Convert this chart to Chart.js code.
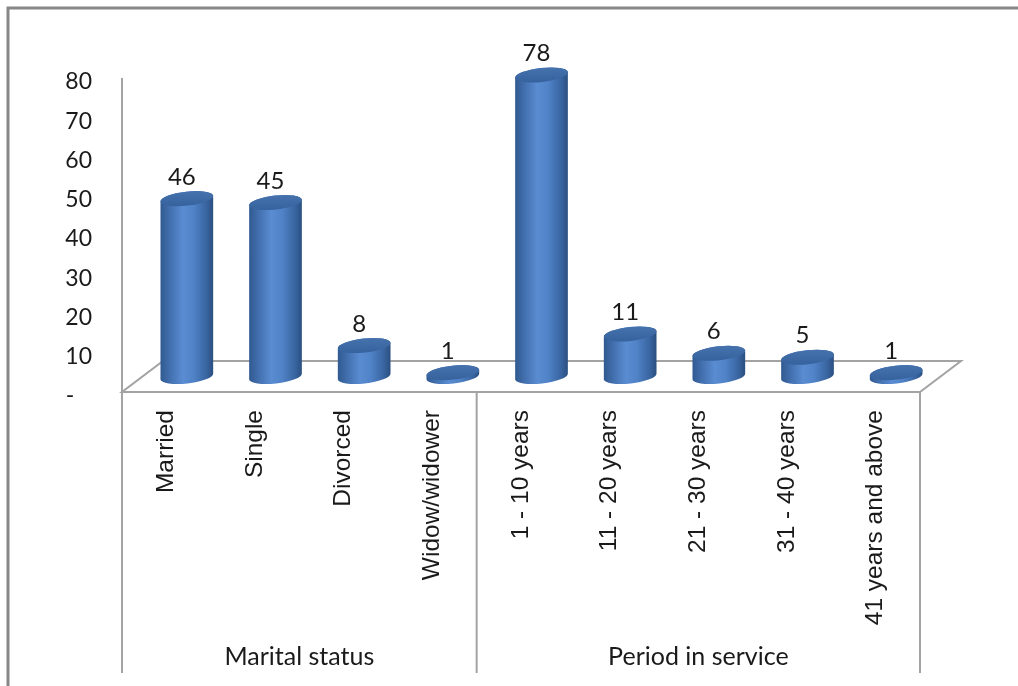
<!DOCTYPE html>
<html>
<head>
<meta charset="utf-8">
<style>
  html, body { margin: 0; padding: 0; background: #fff; }
  #wrap { width: 1018px; height: 686px; }
</style>
<script src="https://cdn.jsdelivr.net/npm/chart.js@4.4.1/dist/chart.umd.min.js"></script>
</head>
<body>
<div id="wrap"><canvas id="chart" width="1018" height="686"></canvas></div>
<script>
// respondents by marital status and by period in service
const categories = ['Married', 'Single', 'Divorced', 'Widow/widower',
  '1 - 10 years', '11 - 20 years', '21 - 30 years', '31 - 40 years', '41 years and above'];
const counts = [46, 45, 8, 1, 78, 11, 6, 5, 1];
const groups = ['Marital status', 'Period in service'];
const groupSizes = [4, 5];
const yTicks = [0, 10, 20, 30, 40, 50, 60, 70, 80];

const FONT = 'Lato, "Liberation Sans", sans-serif';
const LABEL_FONT = '"Liberation Sans", Arial, sans-serif';
const TEXT = '#1a1a1a';
const LINE = '#a3a3a3';
const DX = 41, DY = 31;          // floor depth
const RX = 26.5, RY = 7, TILT = -0.11;

function cylinder(ctx, cx, top, base) {
  const g = ctx.createLinearGradient(cx - RX, 0, cx + RX, 0);
  g.addColorStop(0, '#30598f');
  g.addColorStop(0.18, '#426fae');
  g.addColorStop(0.42, '#5a8cd2');
  g.addColorStop(0.62, '#5083c8');
  g.addColorStop(0.86, '#3a66a2');
  g.addColorStop(1, '#2a4f80');
  ctx.beginPath();
  ctx.ellipse(cx, base, RX, RY, TILT, 0, Math.PI);
  ctx.ellipse(cx, top, RX, RY, TILT, Math.PI, 2 * Math.PI);
  ctx.closePath();
  ctx.fillStyle = g;
  ctx.fill();

  const t = ctx.createLinearGradient(0, top - RY, 0, top + RY);
  t.addColorStop(0, '#4571ad');
  t.addColorStop(1, '#36629d');
  ctx.beginPath();
  ctx.ellipse(cx, top, RX, RY, TILT, 0, 2 * Math.PI);
  ctx.fillStyle = t;
  ctx.fill();
}

const cylinders = {
  id: 'cylinders',
  beforeDraw(chart) {
    const { ctx, chartArea: a, scales: { x } } = chart;
    ctx.save();
    ctx.fillStyle = '#fff';
    ctx.fillRect(0, 0, chart.width, chart.height);
    ctx.strokeStyle = '#878787';
    ctx.lineWidth = 3;
    ctx.strokeRect(8, 8, chart.width + 20, chart.height + 20);

    ctx.strokeStyle = LINE;
    ctx.lineWidth = 2;
    // wall edge
    ctx.beginPath();
    ctx.moveTo(a.left, a.top);
    ctx.lineTo(a.left, a.bottom);
    ctx.stroke();
    // floor
    ctx.beginPath();
    ctx.moveTo(a.left, a.bottom);
    ctx.lineTo(a.right, a.bottom);
    ctx.lineTo(a.right + DX, a.bottom - DY);
    ctx.lineTo(a.left + DX, a.bottom - DY);
    ctx.closePath();
    ctx.stroke();

    // group dividers under the floor
    const step = x.getPixelForValue(1) - x.getPixelForValue(0);
    let start = 0;
    const bounds = [a.left];
    groupSizes.forEach(n => { start += n; bounds.push(x.getPixelForValue(start - 1) + step / 2); });
    ctx.beginPath();
    bounds.forEach(bx => { ctx.moveTo(bx, a.bottom); ctx.lineTo(bx, 673); });
    ctx.stroke();

    ctx.fillStyle = TEXT;
    ctx.font = '25px ' + FONT;
    ctx.textAlign = 'center';
    ctx.textBaseline = 'middle';
    groups.forEach((name, i) => ctx.fillText(name, (bounds[i] + bounds[i + 1]) / 2, 657));
    ctx.restore();
  },
  afterDatasetsDraw(chart) {
    const { ctx, chartArea: a, scales: { y } } = chart;
    const meta = chart.getDatasetMeta(0);
    const base = a.bottom - DY / 2;
    ctx.save();
    meta.data.forEach((bar, i) => {
      const v = counts[i];
      const cx = bar.x + DX / 2;
      const top = base - (a.bottom - y.getPixelForValue(v)) * 0.985;
      cylinder(ctx, cx, top, base);
      ctx.fillStyle = TEXT;
      ctx.font = '24px ' + FONT;
      ctx.textAlign = 'center';
      ctx.textBaseline = 'alphabetic';
      ctx.fillText(String(v), cx - 5, top - 14);
    });
    ctx.restore();
  }
};

new Chart(document.getElementById('chart'), {
  type: 'bar',
  data: {
    labels: categories,
    datasets: [{ data: counts, backgroundColor: 'rgba(0,0,0,0)', borderWidth: 0 }]
  },
  options: {
    responsive: false,
    animation: false,
    layout: { padding: { top: 78, right: 98, left: 0, bottom: 0 } },
    plugins: { legend: { display: false }, tooltip: { enabled: false } },
    scales: {
      x: {
        grid: { display: false, drawTicks: false },
        border: { display: false },
        ticks: {
          autoSkip: false, minRotation: 90, maxRotation: 90, padding: 18,
          color: TEXT, font: { family: LABEL_FONT, size: 24.5 }
        },
        afterFit(s) { s.height = 294; }
      },
      y: {
        min: 0, max: 80,
        afterBuildTicks(s) { s.ticks = yTicks.map(v => ({ value: v })); },
        grid: { display: false, drawTicks: false },
        border: { display: false },
        ticks: {
          padding: 30, labelOffset: 4, color: TEXT,
          font: { family: FONT, size: 23 },
          callback: v => v === 0 ? '-   ' : v
        },
        afterFit(s) { s.width = 122; }
      }
    }
  },
  plugins: [cylinders]
});
</script>
</body>
</html>
